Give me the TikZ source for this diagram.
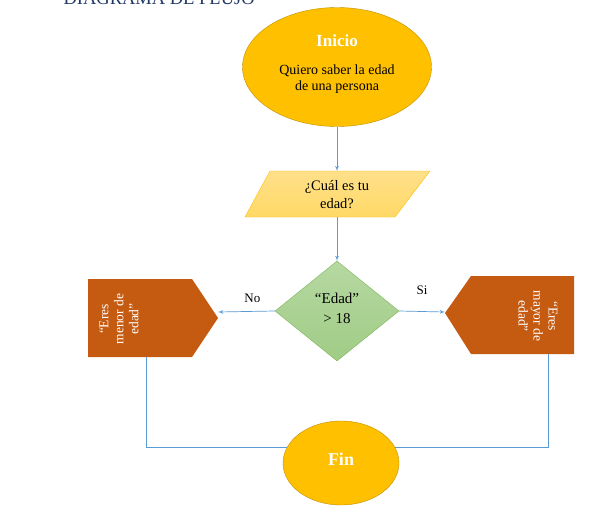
\documentclass[tikz,border=0pt]{standalone}
\usepackage{fontspec}
\setmainfont{Liberation Serif}
\usetikzlibrary{arrows,shapes.geometric}
\definecolor{dorado}{HTML}{FFC000}
\definecolor{bordedorado}{HTML}{BF9000}
\definecolor{amarillo}{HTML}{FFD966}
\definecolor{amarilloclaro}{HTML}{FFE08A}
\definecolor{verde}{HTML}{A0CC85}
\definecolor{verdeclaro}{HTML}{B6D8A2}
\definecolor{bordeverde}{HTML}{7DB65A}
\definecolor{naranja}{HTML}{C55A11}
\definecolor{azul}{HTML}{5B9BD5}
\definecolor{titulo}{HTML}{1F3864}
\tikzset{terminal/.style = {shape = ellipse, draw = bordedorado, fill = dorado, inner sep = 0pt, align = center}}
\tikzset{decision/.style = {shape = diamond, draw = bordeverde, top color = verdeclaro, bottom color = verde, inner sep = 0pt, align = center}}
\tikzset{salida/.style = {rotate = #1, text = white, align = center, font = \fontsize{13.5}{15}\selectfont}}
\tikzset{rotulo/.style = {black, font = \fontsize{13}{15}\selectfont}}
\tikzset{edge/.style = {->, > = latex', draw = azul, line width = 0.7pt}}
\tikzset{conector/.style = {draw = azul, line width = 0.7pt}}

\begin{document}
\begin{tikzpicture}[x = 1pt, y = -1pt, font = \fontsize{14}{15.5}\selectfont]
			\clip (0, 0) rectangle (597, 514);
			\fill[white] (0, 0) rectangle (597, 514);

			\node[anchor = base west, text = titulo, font = \fontsize{18.5}{20}\selectfont] (titulo) at (60, 5) {DIAGRAMA DE FLUJO};

			\node[terminal, minimum width = 189, minimum height = 119] (inicio) at (337, 67) {};
			\node[text = white, font = \fontsize{17}{19}\selectfont\bfseries] (inicio-t) at (337, 41) {Inicio};
			\node[align = center] (inicio-d) at (337, 79) {Quiero saber la edad\\de una persona};

			\draw[draw = dorado, top color = amarilloclaro, bottom color = amarillo] (270, 171) -- (430, 171) -- (395, 217) -- (245, 217) -- cycle;
			\coordinate (pregunta-n) at (337, 171);
			\coordinate (pregunta-s) at (337, 217);
			\node[align = center, font = \fontsize{14.5}{18}\selectfont] (pregunta) at (337, 195) {¿Cuál es tu\\edad?};

			\node[decision, minimum width = 124, minimum height = 100] (edad) at (337, 311) {};
			\node[align = center, font = \fontsize{15}{20}\selectfont] (edad-t) at (337, 308) {“Edad”\\> 18};

			\fill[naranja] (88, 279) -- (192, 279) -- (218, 318) -- (192, 357) -- (88, 357) -- cycle;
			\coordinate (menor-p) at (218, 312);
			\coordinate (menor-b) at (146, 357);
			\node[salida = 90] (menor) at (119, 319) {“Eres\\menor de\\edad”};

			\fill[naranja] (445, 313) -- (471, 276) -- (574, 276) -- (574, 354) -- (471, 354) -- cycle;
			\coordinate (mayor-p) at (445, 312);
			\coordinate (mayor-b) at (548, 354);
			\node[salida = -90] (mayor) at (538, 316) {“Eres\\mayor de\\edad”};

			\node[terminal, minimum width = 116, minimum height = 84] (fin) at (341, 463) {};
			\node[text = white, font = \fontsize{18}{20}\selectfont\bfseries] (fin-t) at (341, 459) {Fin};

			\draw[edge] (inicio) -- (pregunta-n);
			\draw[edge] (pregunta-s) -- (edad);
			\draw[edge] (edad.west) -- node[above = 5pt, xshift = 6pt, rotulo] {No} (menor-p);
			\draw[edge] (edad.east) -- node[above = 13pt, rotulo] {Si} (mayor-p);
			\draw[conector] (menor-b) |- (fin.164);
			\draw[conector] (mayor-b) |- (fin.16);
		\end{tikzpicture}
\end{document}
